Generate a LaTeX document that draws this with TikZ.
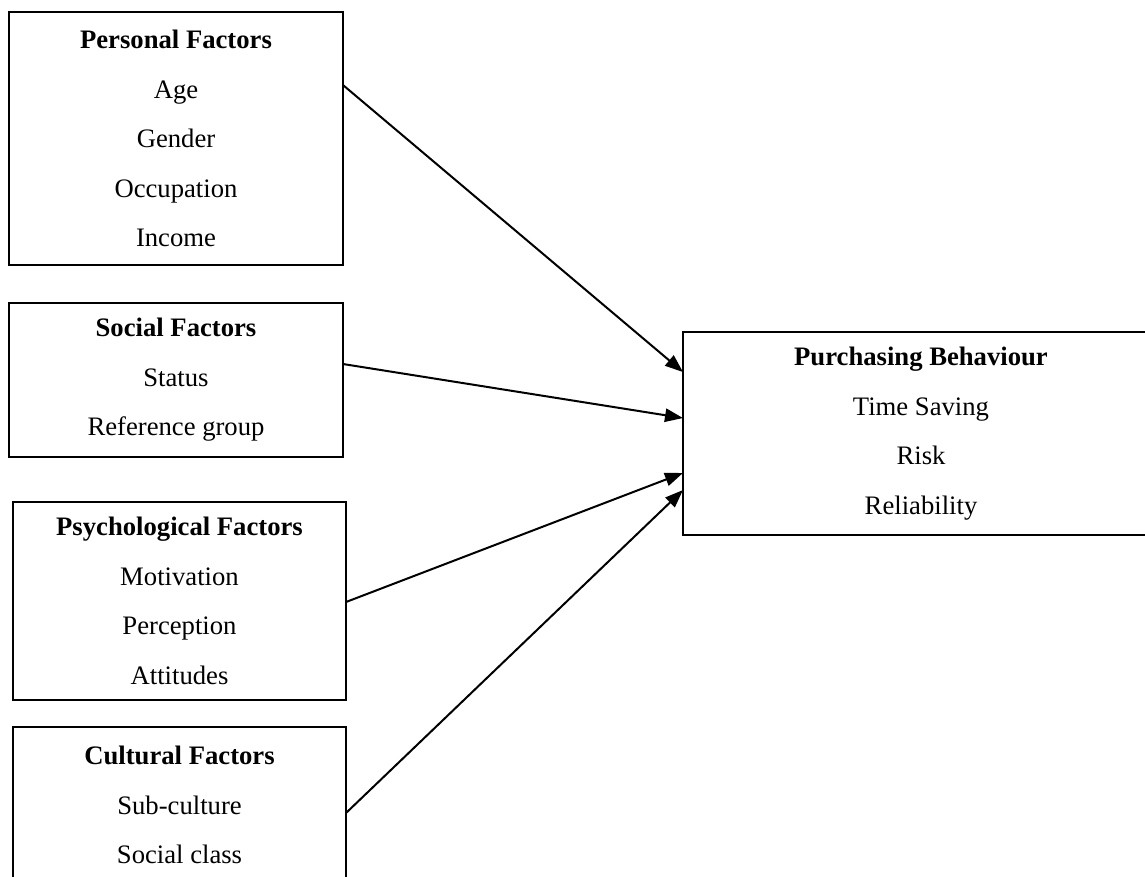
\documentclass[tikz,border=0pt]{standalone}
\usepackage{fontspec}
\setmainfont{Liberation Serif}
\usetikzlibrary{arrows.meta}
\tikzset{
  factor/.style={draw, line width=1.2pt, inner sep=0pt, outer sep=0pt, align=center,
    font=\fontsize{20}{37.1}\selectfont},
  infl/.style={line width=1.5pt, -{Triangle[length=13.5pt,width=10pt]}}
}
\begin{document}
\begin{tikzpicture}[x=0.75pt,y=-0.75pt]
    \clip (0,0) rectangle (1145,876);
    \node [factor, minimum width=250.5pt, minimum height=189.75pt] (pers) at (176,138.5)
      {\textbf{Personal Factors}\\Age\\Gender\\Occupation\\Income};
    \node [factor, minimum width=250.5pt, minimum height=115.5pt] (soc) at (176,380)
      {\textbf{Social Factors}\\Status\\Reference group};
    \node [factor, minimum width=249.75pt, minimum height=148.5pt] (psy) at (179.5,601)
      {\textbf{Psychological Factors}\\Motivation\\Perception\\Attitudes};
    \node [factor, minimum width=249.75pt, minimum height=117pt] (cult) at (179.5,805)
      {\textbf{Cultural Factors}\\Sub-culture\\Social class};
    \node [factor, minimum width=357pt, minimum height=152.25pt] (buy) at (921,433.5)
      {\textbf{Purchasing Behaviour}\\Time Saving\\Risk\\Reliability};
    \draw [infl] ([yshift=40.1pt]pers.east) -- ([yshift=46.1pt]buy.west);
    \draw [infl] ([yshift=12pt]soc.east) -- ([yshift=11.6pt]buy.west);
    \draw [infl] ([yshift=-0.75pt]psy.east) -- ([yshift=-29.6pt]buy.west);
    \draw [infl] ([yshift=-6pt]cult.east) -- ([yshift=-42.4pt]buy.west);
\end{tikzpicture}
\end{document}
